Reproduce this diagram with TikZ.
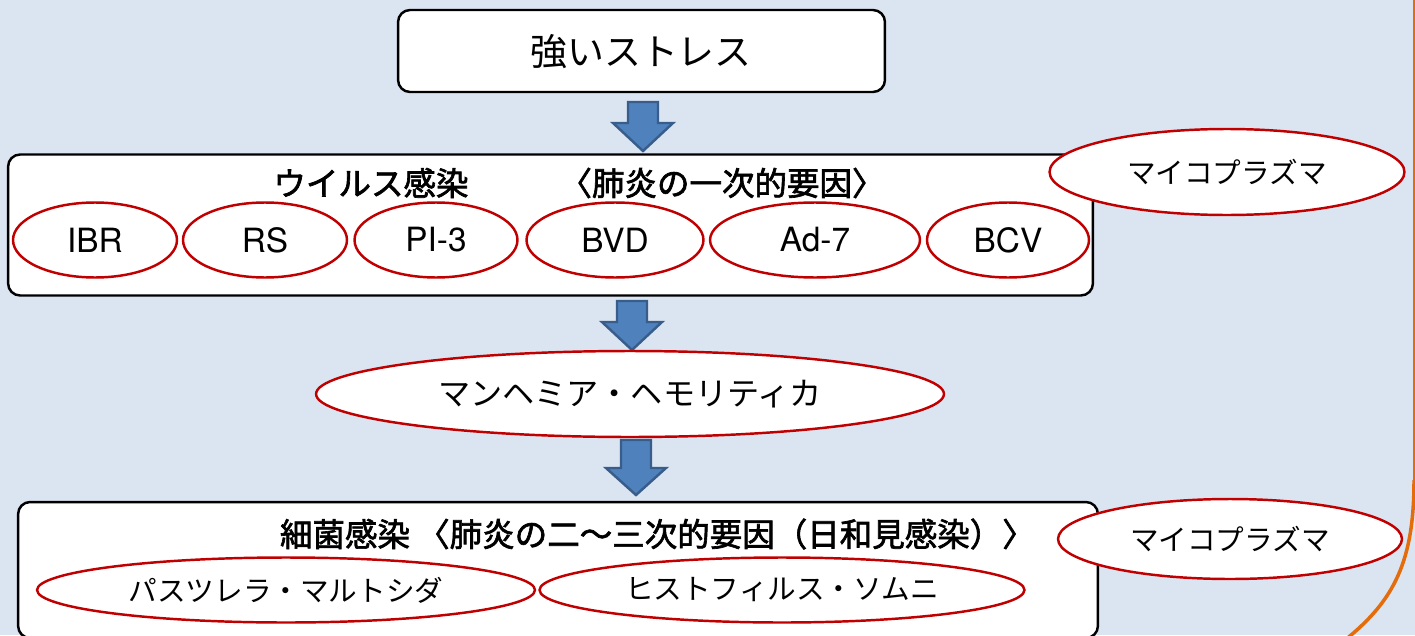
\documentclass[tikz,border=0pt]{standalone}
\usepackage{fontspec}
\usetikzlibrary{shapes.geometric}
\newfontfamily\jp{Noto Sans CJK JP}
\newfontfamily\jpm[FakeBold=2]{Noto Sans CJK JP}
\newfontfamily\lat{TeX Gyre Heros}
\definecolor{bg}{HTML}{DBE5F1}
\definecolor{ovalred}{HTML}{C00000}
\definecolor{arrfill}{HTML}{4F81BD}
\definecolor{arrdraw}{HTML}{385D8A}
\definecolor{orangeline}{HTML}{E46C0A}
\tikzset{
  box/.style={draw=black, line width=1.4pt, fill=white, rounded corners=0.24cm, inner sep=0},
  oval/.style={ellipse, draw=ovalred, line width=1.4pt, fill=white, inner sep=0},
  blockarrow/.style={fill=arrfill, draw=arrdraw, line width=1.4pt, line join=miter},
  titletext/.style={font=\jpm\fontsize{18.5}{20}\selectfont, inner sep=0},
  kanalabel/.style={font=\jp\fontsize{16.3}{18}\selectfont},
  biglabel/.style={font=\jp\fontsize{18.3}{20}\selectfont},
  latlabel/.style={font=\lat\fontsize{19}{21}\selectfont},
}
\newcommand{\blockarr}[4]{%
  \draw[blockarrow] (#1-15,#2) -- (#1+15,#2) -- (#1+15,#3) -- (#1+30,#3) -- (#1,#4) -- (#1-30,#3) -- (#1-15,#3) -- cycle;}
\begin{document}
\begin{tikzpicture}[x=0.02cm,y=-0.02cm]
\useasboundingbox (0,0) rectangle (1415,635);
\fill[bg] (0,0) rectangle (1415,635);
\clip (0,0) rectangle (1415,635);
% orange frame edge
\draw[orangeline, line width=1pt] (1414,-5) -- (1414,480);
\draw[orangeline, line width=2pt] (1414,480) .. controls (1414,560) and (1395,600) .. (1345,640);
% top box
\node[box, minimum width=9.74cm, minimum height=1.64cm] (stress) at (641.5,51) {};
\node[font=\jp\fontsize{21}{23}\selectfont] (stresstxt) at (641,52) {強いストレス};
\blockarr{643}{102}{123}{151}
% middle box
\node[box, minimum width=21.7cm, minimum height=2.82cm] (virus) at (550.5,225) {};
\node[titletext] (virustitle) at (371,183) {ウイルス感染};
\node[titletext] (virusfactor) at (722,183) {〈肺炎の一次的要因〉};
\node[oval, minimum width=3.28cm, minimum height=1.5cm, latlabel] (ibr) at (95,240) {IBR};
\node[oval, minimum width=3.28cm, minimum height=1.5cm, latlabel] (rs) at (265,240) {RS};
\node[oval, minimum width=3.26cm, minimum height=1.5cm, latlabel] (pi3) at (436,240) {PI-3};
\node[oval, minimum width=3.54cm, minimum height=1.5cm, latlabel] (bvd) at (615,240) {BVD};
\node[oval, minimum width=4.2cm, minimum height=1.5cm, latlabel] (ad7) at (815,240) {Ad-7};
\node[oval, minimum width=3.24cm, minimum height=1.5cm, latlabel] (bcv) at (1008,240) {BCV};
\node[oval, minimum width=7.1cm, minimum height=1.72cm, kanalabel] (myco1) at (1227,172) {マイコプラズマ};
\blockarr{632}{301}{322}{350}
% Mannheimia
\node[oval, minimum width=12.56cm, minimum height=1.72cm, biglabel] (mann) at (630,394) {マンヘミア・ヘモリティカ};
\blockarr{636}{440}{468}{495}
% bottom box
\node[box, minimum width=21.6cm, minimum height=2.72cm] (bact) at (558,570) {};
\node[titletext] (bacttitle) at (345,534) {細菌感染};
\node[titletext] (bactfactor) at (726,534) {〈肺炎の二〜三次的要因（日和見感染）〉};
\node[oval, minimum width=9.96cm, minimum height=1.3cm, kanalabel] (past) at (286,590) {パスツレラ・マルトシダ};
\node[oval, minimum width=9.7cm, minimum height=1.3cm, kanalabel] (hist) at (782,590) {ヒストフィルス・ソムニ};
\node[oval, minimum width=6.88cm, minimum height=1.6cm, kanalabel] (myco2) at (1230,539) {マイコプラズマ};
\end{tikzpicture}
\end{document}
